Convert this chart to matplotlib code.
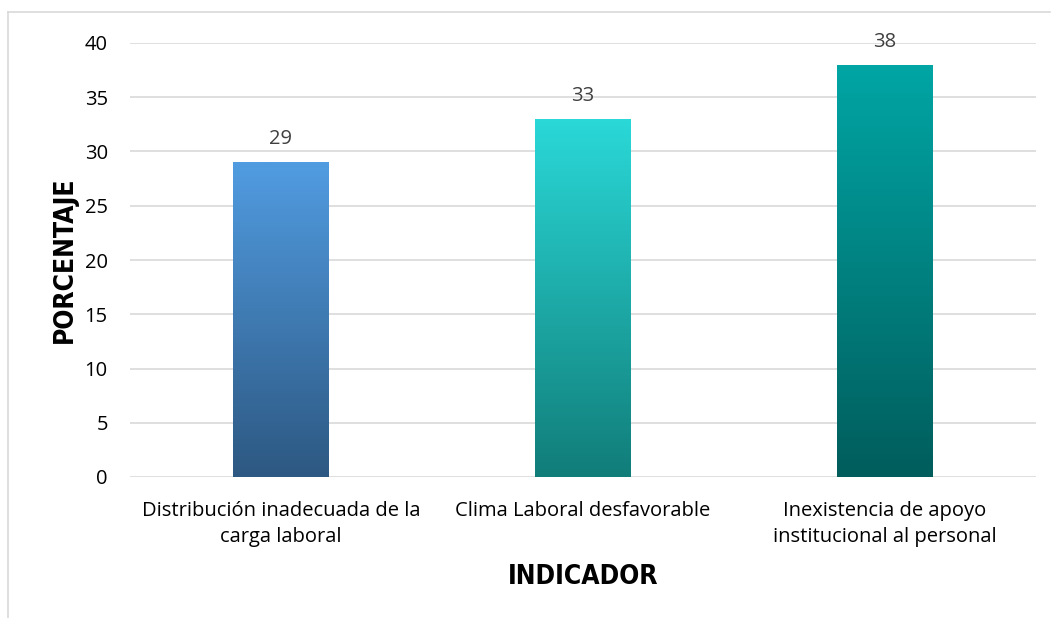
import matplotlib
matplotlib.use("Agg")
import matplotlib.pyplot as plt
import numpy as np
from matplotlib.colors import LinearSegmentedColormap
from matplotlib.patches import Rectangle

categories = ["Distribución inadecuada de la\ncarga laboral",
              "Clima Laboral desfavorable",
              "Inexistencia de apoyo\ninstitucional al personal"]
values = [29, 33, 38]
yticks = [0, 5, 10, 15, 20, 25, 30, 35, 40]
top_colors = ["#519ce1", "#2ad9d8", "#00a6a5"]
bottom_colors = ["#2d5882", "#117d79", "#005d5c"]

fig = plt.figure(figsize=(10.51, 6.18), dpi=100)
ax = fig.add_axes([130/1051, 1-477/618, (1036-130)/1051, (477-43)/618])

# figure border (left and top)
fig.add_artist(plt.Line2D([8/1051, 8/1051], [0, 1-12/618], color="#d9d9d9", lw=1.2, transform=fig.transFigure))
fig.add_artist(plt.Line2D([8/1051, 1050/1051], [1-12/618, 1-12/618], color="#d9d9d9", lw=1.2, transform=fig.transFigure))

width = 0.315
x = np.arange(len(categories))
ax.set_xlim(-0.5, len(categories) - 0.5)
ax.set_ylim(0, 40)

for i, v in enumerate(values):
    cmap = LinearSegmentedColormap.from_list("g%d" % i, [bottom_colors[i], top_colors[i]])
    grad = np.linspace(0, 1, 256).reshape(-1, 1)
    rect = Rectangle((x[i] - width/2, 0), width, v, facecolor="none", edgecolor="none")
    ax.add_patch(rect)
    im = ax.imshow(grad, cmap=cmap, origin="lower", aspect="auto",
                   extent=(x[i] - width/2, x[i] + width/2, 0, v), zorder=2)
    im.set_clip_path(rect)
    ax.text(x[i], v + 1.2, str(v), ha="center", va="bottom", fontsize=14.5,
            color="#404040", family="Open Sans")

ax.set_xlim(-0.5, len(categories) - 0.5)
ax.set_ylim(0, 40)
ax.set_yticks(yticks)
ax.set_yticklabels([str(t) for t in yticks], fontsize=14.5, family="Open Sans", color="#000000")
ax.set_xticks(x)
ax.set_xticklabels(categories, fontsize=14.5, family="Open Sans", color="#000000", linespacing=1.42)
ax.tick_params(axis="both", length=0)
ax.tick_params(axis="y", pad=16)
ax.tick_params(axis="x", pad=17)
ax.grid(axis="y", color="#d9d9d9", lw=1.2, zorder=0)
ax.set_axisbelow(True)
for s in ax.spines.values():
    s.set_visible(False)

lab_family = ["Liberation Sans Narrow", "DejaVu Sans"]
ax.set_ylabel("PORCENTAJE", fontsize=19, fontweight="bold", family=lab_family,
              fontstretch="condensed", labelpad=5)
ax.set_xlabel("INDICADOR", fontsize=19, fontweight="bold", family=lab_family,
              fontstretch="condensed", labelpad=12)

fig.savefig("out.png", dpi=100)
